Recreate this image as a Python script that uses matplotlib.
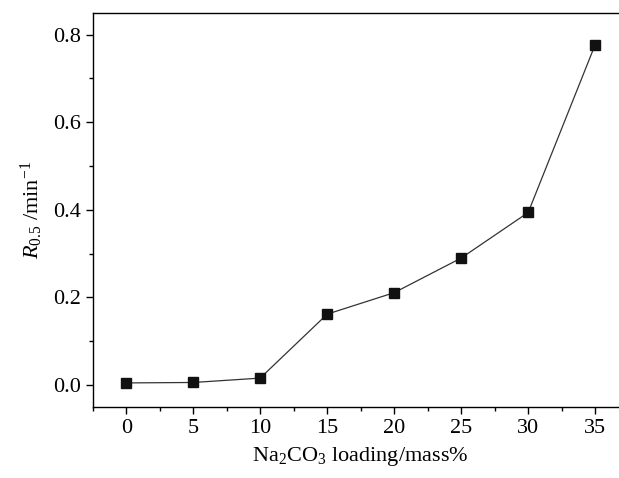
import matplotlib
matplotlib.use("Agg")
import matplotlib.pyplot as plt
from matplotlib.ticker import MultipleLocator

# Na2CO3 loading (mass%) vs R0.5 (min^-1)
loading = [0, 5, 10, 15, 20, 25, 30, 35]
r05 = [0.005, 0.006, 0.016, 0.162, 0.211, 0.290, 0.394, 0.777]

plt.rcParams["font.family"] = "Liberation Serif"
plt.rcParams["mathtext.fontset"] = "custom"
plt.rcParams["mathtext.rm"] = "Liberation Serif"
plt.rcParams["mathtext.it"] = "Liberation Serif:italic"

fig = plt.figure(figsize=(6.19, 4.78), dpi=100)
# the right edge of the frame is cut off in the original figure
ax = fig.add_axes([0.1498, 0.1485, 0.8658, 0.8249])

ax.plot(loading, r05, "-", color="#333333", lw=0.9, zorder=2)
ax.plot(loading, r05, "s", color="#111111", ms=6.5, zorder=3)

ax.set_xlim(-2.5, 37.5)
ax.set_ylim(-0.05, 0.85)
ax.xaxis.set_major_locator(MultipleLocator(5))
ax.xaxis.set_minor_locator(MultipleLocator(2.5))
ax.yaxis.set_major_locator(MultipleLocator(0.2))
ax.yaxis.set_minor_locator(MultipleLocator(0.1))
ax.yaxis.set_major_formatter(matplotlib.ticker.FormatStrFormatter("%.1f"))

ax.tick_params(which="major", direction="out", length=5, width=1, labelsize=16)
ax.tick_params(which="minor", direction="out", length=3, width=1)
ax.tick_params(top=False, right=False)
for s in ax.spines.values():
    s.set_linewidth(1)
ax.spines["right"].set_visible(False)

ax.set_xlabel("Na$_2$CO$_3$ loading/mass%", fontsize=16, labelpad=5)
ax.set_ylabel("$R_{0.5}$ /min$^{-1}$", fontsize=16, labelpad=6)

fig.savefig("out.png", dpi=100)
